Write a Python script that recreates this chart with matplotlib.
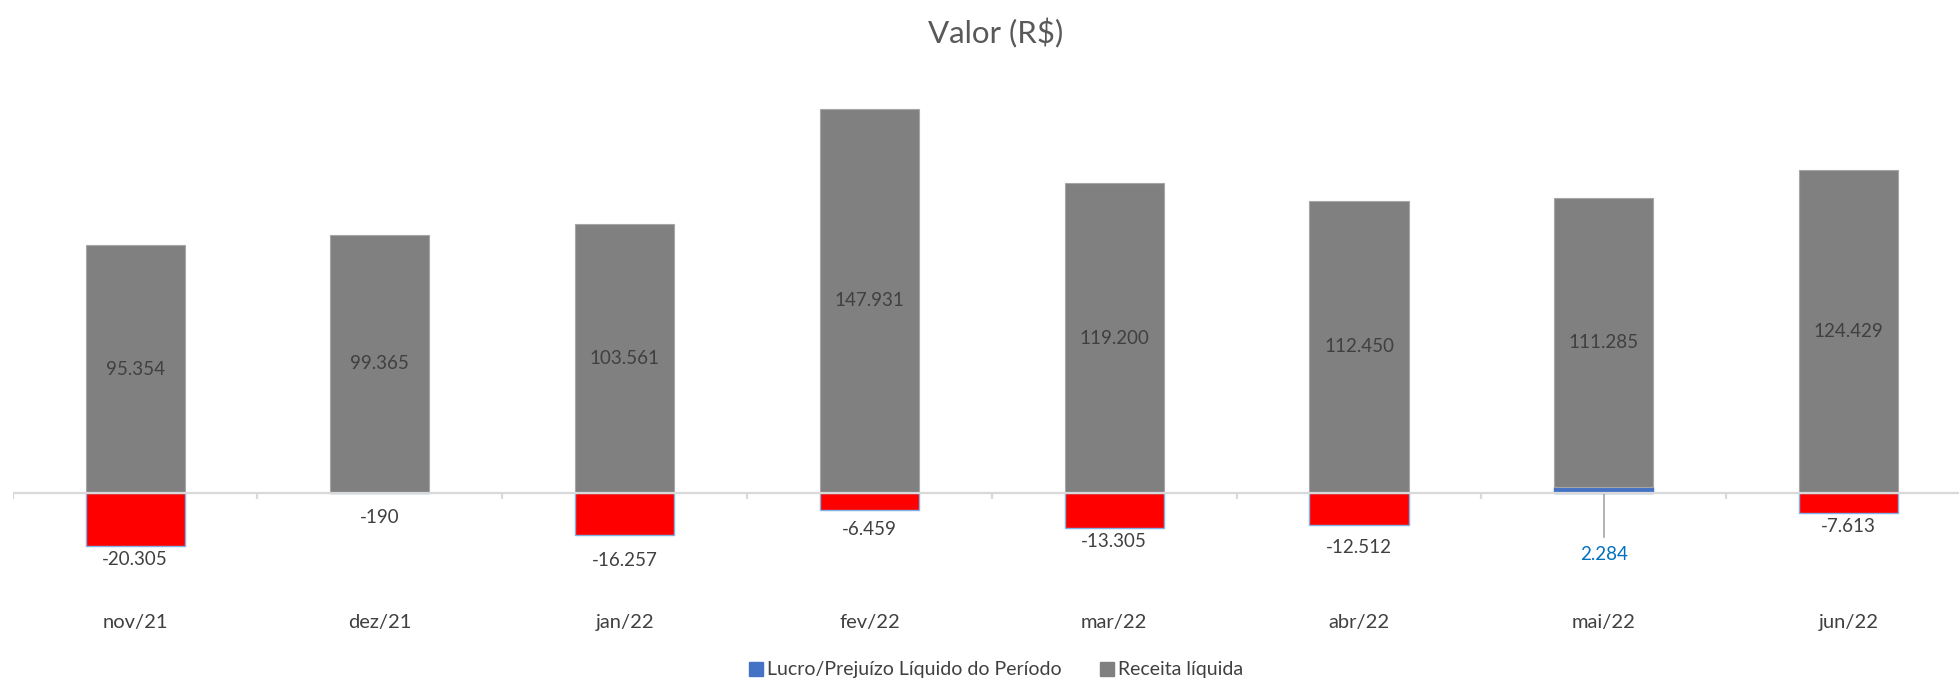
import matplotlib
matplotlib.use("Agg")
import matplotlib.pyplot as plt
from matplotlib.patches import Patch
import numpy as np

# values
months = ["nov/21", "dez/21", "jan/22", "fev/22", "mar/22", "abr/22", "mai/22", "jun/22"]
lucro = [-20305, -190, -16257, -6459, -13305, -12512, 2284, -7613]
receita = [95354, 99365, 103561, 147931, 119200, 112450, 111285, 124429]

# how far each lucro label sits below its bar end (pixels), as in the reference
label_drop_px = [14, 24, 25, 20, 14, 22, 62, 14]

GRAY = "#808080"
RED = "#FF0000"
BLUE = "#4472C4"
TEXT = "#404040"

plt.rcParams["font.family"] = ["Lato", "DejaVu Sans"]

W, H = 1959, 680
UNITS_PER_PX = 385.0
ZERO_PX = 493
TOP_PX, BOTTOM_PX = 60, 610
LEFT_PX, RIGHT_PX = 12.7, 1971

fig = plt.figure(figsize=(W / 100, H / 100), dpi=100)
ax = fig.add_axes([LEFT_PX / W, (H - BOTTOM_PX) / H,
                   (RIGHT_PX - LEFT_PX) / W, (BOTTOM_PX - TOP_PX) / H])

x = np.arange(len(months))
lucro = np.array(lucro, dtype=float)
receita = np.array(receita, dtype=float)
width = 0.405

lucro_colors = [BLUE if v >= 0 else RED for v in lucro]
lucro_edges = ["#4472C4" if v >= 0 else "#7FB2E5" for v in lucro]
ax.bar(x, lucro, width, color=lucro_colors, edgecolor=lucro_edges, linewidth=1.0, zorder=2)
base = np.where(lucro > 0, lucro, 0)
gray_bars = ax.bar(x, receita, width, bottom=base, color=GRAY, edgecolor="#A6A6A6",
                   linewidth=0.8, zorder=2)

ax.bar_label(gray_bars, labels=[f"{v:,.0f}".replace(",", ".") for v in receita],
             label_type="center", color=TEXT, fontsize=13.5)

for i, v in enumerate(lucro):
    txt = f"{v:,.0f}".replace(",", ".")
    if v >= 0:
        ax.annotate(txt, (x[i], 0), xytext=(0, -label_drop_px[i]), textcoords="offset pixels",
                    ha="center", va="center", color="#0070C0", fontsize=13.5)
        ax.plot([x[i], x[i]], [0, -44 * UNITS_PER_PX], color="#A6A6A6", lw=1.2, zorder=1)
    else:
        ax.annotate(txt, (x[i], v), xytext=(0, -label_drop_px[i]), textcoords="offset pixels",
                    ha="center", va="center", color=TEXT, fontsize=13.5)

# zero line with category separators
ax.axhline(0, color="#D9D9D9", lw=1.6, zorder=3)
bounds = np.arange(len(months) + 1) - 0.5
ax.vlines(bounds, -6 * UNITS_PER_PX, 0, color="#D9D9D9", lw=1.6, zorder=3)

ax.set_xlim(-0.5, len(months) - 0.5)
ax.set_ylim(-(BOTTOM_PX - ZERO_PX) * UNITS_PER_PX, (ZERO_PX - TOP_PX) * UNITS_PER_PX)
ax.set_xticks(x)
ax.set_xticklabels(months, color=TEXT, fontsize=14.5)
ax.tick_params(axis="x", length=0, pad=3)
ax.set_yticks([])
for s in ax.spines.values():
    s.set_visible(False)

fig.text(996 / W, 1 - 33 / H, "Valor (R$)", ha="center", va="center", fontsize=22.5, color="#595959")

handles = [Patch(facecolor=BLUE, edgecolor=BLUE), Patch(facecolor=GRAY, edgecolor=GRAY)]
fig.legend(handles, ["Lucro/Prejuízo Líquido do Período", "Receita líquida"],
           loc="center", bbox_to_anchor=(996 / W, 1 - 670 / H), ncol=2, frameon=False,
           fontsize=14, handlelength=0.72, handleheight=0.72, handletextpad=0.2,
           columnspacing=2.0, labelcolor=TEXT)

fig.savefig("out.png", dpi=100)
